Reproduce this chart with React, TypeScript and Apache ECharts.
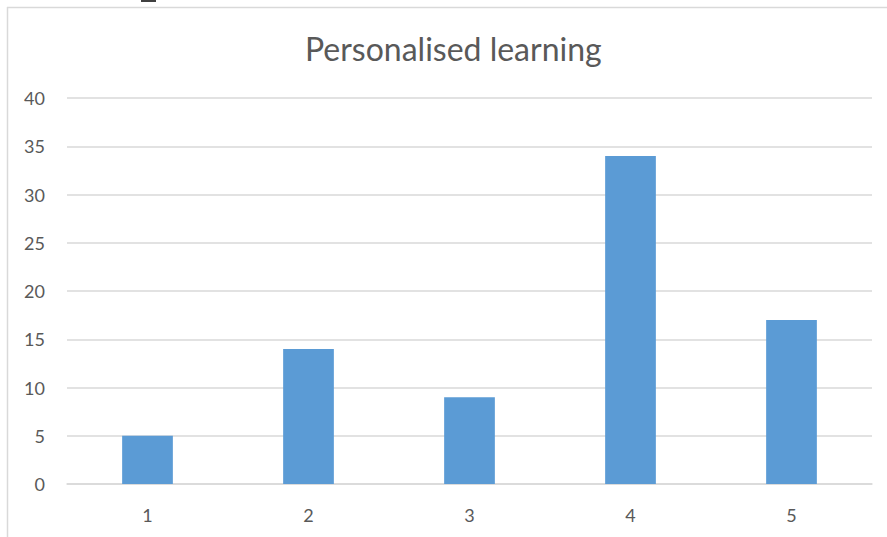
import React, { useEffect, useRef } from "react";
import * as echarts from "echarts";

const categories = ["1", "2", "3", "4", "5"];
const values = [5, 14, 9, 34, 17];
const titleText = "Personalised learning";

export default function App() {
  const ref = useRef<HTMLDivElement>(null);
  useEffect(() => {
    if (!ref.current) return;
    const chart = echarts.init(ref.current, null, { renderer: "svg" });
    chart.setOption({
      animation: false,
      backgroundColor: "#ffffff",
      title: {
        text: titleText,
        left: 300,
        top: 27,
        textStyle: { fontFamily: "Lato", fontSize: 32, fontWeight: "normal", color: "#595959" },
      },
      grid: { left: 67, right: 15, top: 98, bottom: 53 },
      xAxis: {
        type: "category",
        data: categories,
        axisLine: { show: true, lineStyle: { color: "#d9d9d9", width: 1.5 } },
        axisTick: { show: false },
        axisLabel: { fontFamily: "Lato", fontSize: 18, color: "#595959", margin: 22 },
      },
      yAxis: {
        type: "value",
        min: 0,
        max: 40,
        interval: 5,
        axisLine: { show: false },
        axisTick: { show: false },
        splitLine: { lineStyle: { color: "#d9d9d9", width: 1.5 } },
        axisLabel: { fontFamily: "Lato", fontSize: 18, color: "#595959", margin: 22 },
      },
      series: [
        {
          type: "bar",
          data: values,
          barWidth: "31.5%",
          itemStyle: { color: "#5b9bd5" },
        },
      ],
      graphic: [
        { type: "line", shape: { x1: 7.5, y1: 7, x2: 7.5, y2: 537 }, style: { stroke: "#d9d9d9", lineWidth: 1.5 } },
        { type: "line", shape: { x1: 7, y1: 7.5, x2: 887, y2: 7.5 }, style: { stroke: "#d9d9d9", lineWidth: 1.5 } },
        { type: "rect", shape: { x: 141, y: 0, width: 15, height: 2 }, style: { fill: "#404040" } },
      ],
    });
    return () => chart.dispose();
  }, []);
  return (
    <div
      ref={ref}
      style={{ position: "absolute", left: 0, top: 0, width: 887, height: 537 }}
    />
  );
}
